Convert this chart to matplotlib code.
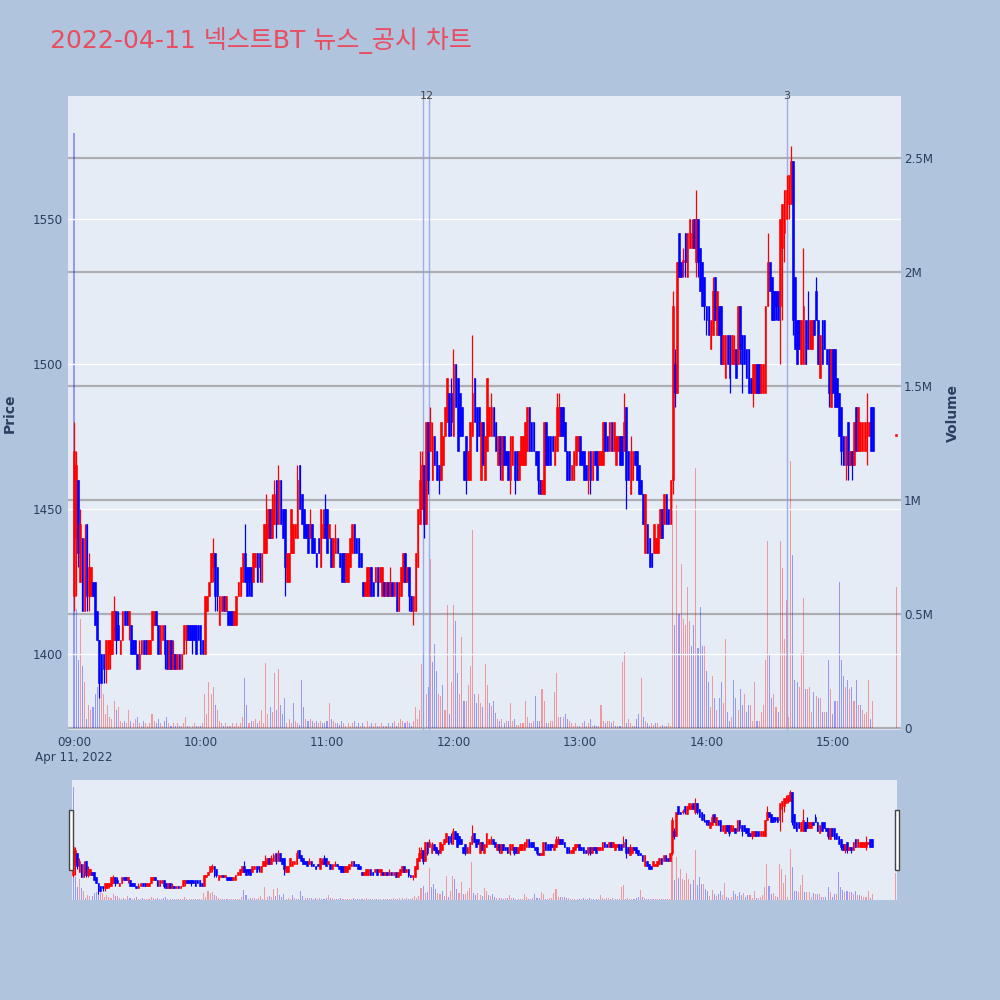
import numpy as np
import pandas as pd
import matplotlib
matplotlib.use('Agg')
import matplotlib.pyplot as plt
import matplotlib.dates as mdates
from matplotlib.patches import Rectangle

plt.rcParams['font.family'] = ['DejaVu Sans', 'Noto Sans CJK KR']

title = '2022-04-11 넥스트BT 뉴스_공시 차트'
trade_date = '2022-04-11'
prev_close = 1480

# 1-minute candles 09:00-15:19, then the 15:30 closing auction (last value)
opens = [
    1420, 1440, 1460, 1425, 1440, 1415, 1445, 1420, 1420, 1425,
    1425, 1415, 1405, 1400, 1400, 1395, 1395, 1400, 1400, 1405,
    1415, 1410, 1400, 1405, 1415, 1415, 1410, 1410, 1405, 1405,
    1400, 1395, 1400, 1405, 1405, 1400, 1400, 1405, 1410, 1415,
    1410, 1400, 1405, 1410, 1405, 1395, 1405, 1395, 1400, 1395,
    1400, 1395, 1400, 1405, 1410, 1410, 1410, 1410, 1410, 1410,
    1410, 1405, 1400, 1415, 1420, 1425, 1430, 1435, 1430, 1410,
    1415, 1420, 1415, 1415, 1415, 1415, 1410, 1410, 1420, 1420,
    1425, 1435, 1430, 1430, 1430, 1425, 1430, 1435, 1435, 1425,
    1435, 1435, 1440, 1450, 1440, 1445, 1460, 1445,
    1460, 1450, 1450, 1425, 1425, 1435, 1435, 1440, 1440, 1465,
    1455, 1450, 1445, 1445, 1440, 1445, 1440, 1435, 1440, 1430,
    1440, 1450, 1450, 1440, 1440, 1430, 1435, 1440, 1435, 1435,
    1435, 1425, 1425, 1430, 1435, 1445, 1440, 1440, 1435, 1425,
    1420, 1420, 1420, 1430, 1425, 1425, 1430, 1425, 1420, 1425,
    1420, 1425, 1420, 1425, 1420, 1425, 1415, 1420, 1425, 1435,
    1425, 1430, 1420, 1415,
    1415, 1430, 1445, 1450, 1465, 1445, 1480, 1470, 1460, 1475,
    1470, 1465, 1460, 1465, 1475, 1480, 1490, 1490, 1475, 1500,
    1495, 1490, 1485, 1470, 1475, 1460, 1460, 1475, 1495, 1485,
    1485, 1460, 1480, 1460, 1470,
    1475, 1475, 1485, 1480, 1465, 1475, 1460, 1475, 1470, 1470,
    1460, 1465, 1470, 1470, 1460, 1465, 1465, 1465, 1470, 1485,
    1480, 1480, 1470, 1470, 1460, 1455, 1455, 1480, 1475,
    1475, 1475, 1465, 1470, 1475, 1485, 1485, 1480, 1470, 1470,
    1460, 1460, 1465, 1470, 1475, 1470, 1470, 1465, 1460, 1470,
    1460, 1470, 1470, 1465, 1465, 1465, 1480, 1475, 1470, 1480,
    1470, 1465, 1470, 1475, 1475, 1470, 1485, 1470, 1455, 1460,
    1470, 1470, 1465, 1460, 1455, 1435, 1445, 1440, 1435, 1435,
    1435, 1435, 1440, 1450, 1445, 1455, 1450, 1445, 1460,
    1500, 1490,
    1545, 1535, 1535, 1545, 1530, 1540, 1540, 1550, 1535, 1550,
    1540, 1535, 1530, 1520, 1520, 1505, 1510, 1530, 1510, 1520,
    1520, 1500, 1495, 1510, 1510, 1500, 1500, 1505, 1500, 1520,
    1510, 1510, 1505, 1505, 1495, 1490, 1490, 1500, 1500, 1490,
    1490, 1490, 1520, 1535, 1530, 1525, 1525, 1525, 1520, 1540,
    1545, 1550, 1555, 1555, 1570, 1530, 1515, 1515, 1500, 1500,
    1515, 1515, 1505, 1505, 1515, 1525, 1515, 1495, 1515, 1515,
    1505, 1505, 1485, 1505, 1505, 1495, 1490, 1485, 1475, 1465,
    1480, 1465, 1470, 1465, 1485, 1470, 1470, 1470, 1470, 1470,
    1475, 1485, 1485,
    1475,
]
highs = [
    1480, 1470, 1460, 1450, 1440, 1445, 1445, 1435, 1430, 1425,
    1425, 1415, 1405, 1400, 1400, 1405, 1405, 1405, 1415, 1420,
    1415, 1415, 1405, 1415, 1415, 1415, 1415, 1410, 1405, 1405,
    1400, 1405, 1405, 1405, 1405, 1405, 1405, 1415, 1415, 1415,
    1410, 1410, 1410, 1410, 1405, 1405, 1405, 1405, 1400, 1400,
    1400, 1400, 1410, 1410, 1410, 1410, 1410, 1410, 1410, 1410,
    1410, 1405, 1420, 1420, 1425, 1435, 1440, 1435, 1430, 1420,
    1420, 1420, 1420, 1415, 1415, 1415, 1415, 1420, 1425, 1430,
    1435, 1445, 1430, 1430, 1430, 1435, 1435, 1435, 1435, 1435,
    1445, 1455, 1450, 1450, 1455, 1460, 1460, 1465,
    1460, 1450, 1450, 1435, 1435, 1450, 1445, 1445, 1465, 1465,
    1455, 1450, 1445, 1445, 1450, 1445, 1440, 1435, 1440, 1450,
    1450, 1455, 1450, 1445, 1440, 1440, 1445, 1440, 1435, 1435,
    1435, 1435, 1435, 1440, 1445, 1445, 1440, 1440, 1435, 1425,
    1425, 1430, 1430, 1430, 1425, 1430, 1430, 1430, 1430, 1425,
    1425, 1425, 1430, 1425, 1425, 1425, 1425, 1430, 1435, 1435,
    1430, 1430, 1420, 1420,
    1435, 1450, 1470, 1470, 1465, 1480, 1480, 1485, 1480, 1475,
    1470, 1465, 1480, 1475, 1485, 1495, 1490, 1495, 1505, 1500,
    1495, 1490, 1485, 1470, 1475, 1470, 1480, 1510, 1495, 1485,
    1485, 1480, 1480, 1475, 1495,
    1485, 1490, 1485, 1480, 1475, 1475, 1475, 1475, 1470, 1470,
    1475, 1475, 1470, 1470, 1470, 1475, 1475, 1480, 1485, 1485,
    1480, 1480, 1470, 1470, 1460, 1460, 1480, 1480, 1475, 1475,
    1475, 1475, 1490, 1490, 1485, 1485, 1480, 1470, 1470, 1465,
    1470, 1475, 1475, 1475, 1470, 1470, 1465, 1470, 1470, 1470,
    1470, 1470, 1470, 1470, 1480, 1480, 1475, 1480, 1480, 1480,
    1475, 1475, 1475, 1475, 1490, 1485, 1470, 1475, 1470, 1470,
    1470, 1465, 1460, 1455, 1455, 1445, 1440, 1435, 1445, 1440,
    1445, 1450, 1450, 1455, 1455, 1450, 1460, 1525,
    1505, 1535,
    1545, 1535, 1540, 1545, 1545, 1550, 1550, 1550, 1560, 1550,
    1540, 1535, 1530, 1520, 1520, 1515, 1530, 1530, 1525, 1520,
    1520, 1510, 1510, 1510, 1510, 1510, 1510, 1505, 1520, 1520,
    1510, 1510, 1505, 1505, 1495, 1500, 1500, 1500, 1500, 1500,
    1500, 1520, 1545, 1535, 1530, 1525, 1525, 1525, 1550, 1555,
    1560, 1565, 1565, 1575, 1570, 1530, 1515, 1515, 1515, 1540,
    1515, 1525, 1515, 1515, 1515, 1530, 1515, 1510, 1515, 1515,
    1505, 1505, 1505, 1505, 1505, 1495, 1490, 1485, 1475, 1475,
    1480, 1470, 1470, 1480, 1485, 1485, 1480, 1480, 1480, 1490,
    1480, 1485, 1485,
    1475,
]
lows = [
    1415, 1420, 1430, 1425, 1415, 1415, 1415, 1415, 1420, 1420,
    1410, 1405, 1385, 1390, 1390, 1390, 1395, 1395, 1400, 1405,
    1400, 1405, 1400, 1405, 1410, 1410, 1405, 1400, 1400, 1400,
    1395, 1395, 1400, 1400, 1400, 1400, 1400, 1405, 1410, 1410,
    1400, 1400, 1405, 1395, 1395, 1395, 1395, 1395, 1395, 1395,
    1395, 1395, 1400, 1400, 1405, 1405, 1400, 1405, 1400, 1405,
    1400, 1400, 1400, 1415, 1420, 1425, 1425, 1415, 1415, 1410,
    1415, 1415, 1415, 1410, 1410, 1410, 1410, 1410, 1420, 1420,
    1425, 1425, 1420, 1420, 1420, 1425, 1430, 1425, 1425, 1425,
    1435, 1435, 1440, 1440, 1440, 1445, 1440, 1445,
    1445, 1440, 1420, 1425, 1425, 1435, 1435, 1440, 1440, 1450,
    1445, 1440, 1440, 1435, 1440, 1435, 1435, 1430, 1435, 1430,
    1440, 1440, 1435, 1440, 1430, 1430, 1435, 1435, 1430, 1425,
    1425, 1425, 1425, 1430, 1435, 1435, 1435, 1430, 1430, 1420,
    1420, 1420, 1420, 1420, 1420, 1425, 1420, 1425, 1420, 1420,
    1420, 1420, 1420, 1420, 1420, 1415, 1415, 1420, 1425, 1425,
    1425, 1415, 1415, 1410,
    1415, 1430, 1445, 1450, 1440, 1445, 1455, 1470, 1460, 1465,
    1460, 1455, 1460, 1465, 1475, 1480, 1475, 1475, 1475, 1485,
    1470, 1475, 1475, 1460, 1455, 1460, 1460, 1475, 1480, 1470,
    1475, 1460, 1465, 1460, 1470,
    1475, 1475, 1475, 1470, 1465, 1460, 1460, 1465, 1465, 1460,
    1455, 1465, 1455, 1460, 1460, 1465, 1465, 1465, 1470, 1470,
    1470, 1470, 1465, 1455, 1455, 1455, 1455, 1465, 1465, 1465,
    1470, 1465, 1470, 1475, 1475, 1475, 1470, 1460, 1460, 1460,
    1460, 1465, 1470, 1465, 1465, 1460, 1460, 1455, 1455, 1460,
    1465, 1460, 1465, 1465, 1465, 1470, 1470, 1470, 1470, 1470,
    1465, 1470, 1465, 1465, 1470, 1450, 1460, 1455, 1460, 1465,
    1460, 1455, 1455, 1445, 1435, 1435, 1430, 1430, 1435, 1435,
    1435, 1440, 1440, 1445, 1445, 1445, 1445, 1455,
    1485, 1490,
    1530, 1530, 1530, 1530, 1530, 1540, 1540, 1540, 1530, 1530,
    1525, 1520, 1515, 1510, 1510, 1505, 1510, 1515, 1510, 1510,
    1500, 1500, 1495, 1500, 1490, 1500, 1500, 1495, 1500, 1500,
    1490, 1500, 1495, 1490, 1490, 1485, 1490, 1490, 1490, 1490,
    1490, 1490, 1520, 1525, 1515, 1515, 1515, 1515, 1500, 1515,
    1535, 1550, 1550, 1555, 1510, 1505, 1500, 1505, 1500, 1500,
    1500, 1505, 1505, 1505, 1510, 1515, 1500, 1495, 1500, 1505,
    1500, 1485, 1485, 1490, 1485, 1485, 1475, 1465, 1465, 1460,
    1460, 1465, 1460, 1465, 1470, 1470, 1470, 1470, 1470, 1465,
    1475, 1470, 1470,
    1475,
]
closes = [
    1470, 1465, 1435, 1445, 1415, 1440, 1420, 1430, 1430, 1420,
    1410, 1405, 1390, 1390, 1395, 1405, 1405, 1405, 1415, 1415,
    1405, 1405, 1405, 1415, 1410, 1410, 1415, 1400, 1400, 1400,
    1395, 1400, 1405, 1400, 1400, 1405, 1405, 1415, 1415, 1410,
    1400, 1410, 1410, 1400, 1395, 1405, 1395, 1400, 1395, 1400,
    1395, 1400, 1410, 1410, 1405, 1405, 1405, 1405, 1400, 1405,
    1400, 1400, 1420, 1420, 1425, 1435, 1435, 1420, 1420, 1420,
    1420, 1415, 1420, 1410, 1410, 1410, 1415, 1420, 1425, 1430,
    1435, 1425, 1420, 1425, 1420, 1435, 1435, 1425, 1430, 1435,
    1445, 1445, 1450, 1440, 1450, 1455, 1445, 1460,
    1445, 1440, 1430, 1435, 1435, 1450, 1445, 1445, 1460, 1450,
    1445, 1440, 1440, 1435, 1445, 1435, 1435, 1430, 1435, 1450,
    1445, 1440, 1435, 1445, 1430, 1440, 1440, 1435, 1430, 1425,
    1425, 1435, 1435, 1440, 1445, 1435, 1435, 1430, 1430, 1420,
    1425, 1430, 1430, 1420, 1420, 1430, 1420, 1430, 1430, 1420,
    1425, 1420, 1425, 1420, 1425, 1415, 1425, 1430, 1435, 1425,
    1430, 1420, 1415, 1420,
    1435, 1450, 1460, 1465, 1445, 1480, 1460, 1480, 1475, 1465,
    1460, 1460, 1480, 1475, 1485, 1495, 1475, 1480, 1500, 1485,
    1470, 1475, 1475, 1460, 1460, 1470, 1480, 1490, 1480, 1470,
    1475, 1480, 1465, 1475, 1495,
    1485, 1485, 1475, 1470, 1475, 1465, 1475, 1465, 1465, 1460,
    1475, 1475, 1460, 1460, 1470, 1475, 1475, 1480, 1485, 1470,
    1470, 1470, 1465, 1460, 1455, 1460, 1480, 1465, 1465, 1465,
    1470, 1475, 1485, 1485, 1475, 1475, 1470, 1460, 1460, 1465,
    1470, 1475, 1475, 1465, 1465, 1460, 1460, 1470, 1460, 1470,
    1465, 1460, 1470, 1470, 1480, 1470, 1470, 1480, 1470, 1480,
    1475, 1475, 1465, 1465, 1480, 1460, 1460, 1470, 1470, 1465,
    1460, 1455, 1455, 1445, 1455, 1435, 1430, 1430, 1445, 1440,
    1445, 1450, 1440, 1455, 1445, 1445, 1460, 1520,
    1490, 1535,
    1530, 1530, 1535, 1535, 1545, 1550, 1545, 1540, 1550, 1535,
    1525, 1520, 1520, 1515, 1510, 1515, 1525, 1515, 1525, 1510,
    1500, 1510, 1510, 1500, 1495, 1510, 1505, 1495, 1520, 1505,
    1500, 1500, 1495, 1490, 1490, 1500, 1500, 1490, 1490, 1500,
    1500, 1520, 1535, 1525, 1515, 1515, 1520, 1515, 1550, 1555,
    1560, 1560, 1565, 1570, 1515, 1505, 1500, 1505, 1515, 1520,
    1500, 1505, 1515, 1515, 1510, 1515, 1500, 1510, 1500, 1505,
    1500, 1490, 1505, 1490, 1485, 1485, 1475, 1470, 1465, 1475,
    1465, 1470, 1465, 1480, 1470, 1485, 1480, 1480, 1480, 1480,
    1480, 1470, 1470,
    1475,
]
# traded volume, thousand shares
volumes = [
    2610, 520, 300, 480, 270, 200, 40, 100, 80, 90,
    150, 180, 200, 250, 150, 60, 100, 50, 40, 120,
    80, 90, 30, 20, 30, 20, 80, 30, 20, 40,
    50, 20, 10, 30, 20, 10, 20, 60, 30, 20,
    40, 20, 10, 30, 50, 20, 10, 20, 10, 20,
    10, 10, 20, 50, 10, 10, 10, 20, 10, 10,
    10, 20, 150, 60, 200, 150, 180, 100, 80, 30,
    20, 10, 20, 10, 10, 20, 10, 20, 10, 20,
    50, 220, 100, 20, 30, 30, 40, 20, 30, 80,
    20, 285, 60, 90, 70, 240, 80, 260,
    100, 60, 130, 20, 40, 20, 110, 30, 20, 15,
    210, 90, 40, 30, 40, 30, 20, 30, 20, 30,
    20, 20, 30, 110, 40, 30, 20, 20, 15, 30,
    20, 10, 20, 10, 20, 30, 10, 20, 10, 20,
    10, 30, 10, 20, 10, 20, 10, 10, 20, 10,
    10, 20, 10, 20, 30, 10, 20, 40, 30, 20,
    30, 20, 10, 30,
    90, 40, 80, 280, 320, 150, 180, 740, 290, 370,
    250, 150, 140, 190, 80, 540, 60, 200, 540, 470,
    240, 150, 400, 120, 120, 190, 270, 870, 150, 110,
    150, 110, 90, 280, 190,
    110, 95, 120, 65, 40, 30, 40, 20, 30, 30,
    110, 30, 40, 15, 15, 20, 20, 120, 50, 20,
    20, 30, 140, 30, 30, 170, 120, 20, 20, 30,
    30, 160, 240, 50, 50, 50, 60, 40, 30, 20,
    10, 20, 10, 10, 20, 30, 10, 20, 40, 10,
    15, 10, 10, 100, 30, 20, 30, 30, 20, 30,
    10, 10, 10, 290, 335, 20, 40, 20, 10, 10,
    40, 60, 220, 50, 30, 20, 10, 20, 15, 20,
    20, 10, 15, 10, 10, 20, 10, 1100,
    450, 980,
    500, 720, 480, 450, 620, 470, 360, 450, 1140, 350,
    530, 360, 360, 250, 200, 90, 230, 130, 80, 130,
    200, 110, 390, 70, 30, 50, 210, 130, 80, 170,
    100, 150, 70, 100, 100, 30, 200, 30, 30, 70,
    100, 300, 820, 320, 130, 150, 90, 70, 820, 700,
    390, 560, 50, 1170, 760, 210, 200, 180, 330, 570,
    170, 170, 180, 70, 160, 140, 130, 130, 70, 70,
    70, 300, 170, 60, 120, 120, 640, 300, 230, 180,
    210, 170, 180, 120, 210, 100, 100, 80, 60, 70,
    210, 40, 120,
    620,
]

# disclosure / news timestamps and their marker labels
news_times = ['11:45:45', '11:48:20', '14:38:00']
news_labels = ['1', '2', '3']

x_tick_labels = ['09:00\nApr 11, 2022', '10:00', '11:00', '12:00', '13:00', '14:00', '15:00']
price_ticks = [1400, 1450, 1500, 1550]
volume_ticks = [0, 0.5e6, 1e6, 1.5e6, 2e6, 2.5e6]
volume_tick_labels = ['0', '0.5M', '1M', '1.5M', '2M', '2.5M']

n_minutes = len(opens) - 1
times = pd.date_range(f'{trade_date} 09:00', periods=n_minutes, freq='min')
times = times.append(pd.DatetimeIndex([f'{trade_date} 15:30']))

o = np.array(opens, float)
h = np.array(highs, float)
l = np.array(lows, float)
c = np.array(closes, float)
v = np.array(volumes, float) * 1000
x = mdates.date2num(times)
minute = 1 / 1440

up = c >= o
candle_col = np.where(up, '#FF0000', '#0000FF')
prev = np.concatenate([[prev_close], c[:-1]])
vol_col = np.where(c >= prev, '#FF0000', '#0000FF')

TXT = '#2a3f5f'
BG = '#B0C4DE'
PLOT_BG = '#E5ECF6'
start = mdates.date2num(pd.Timestamp(f'{trade_date} 09:00'))


def draw(ax, axv, body_w, wick_lw, vol_w):
    axv.bar(x, v, width=vol_w * minute, color=vol_col, alpha=0.35, lw=0, zorder=2)
    ax.vlines(x, l, h, colors=candle_col, lw=wick_lw, zorder=3)
    bottom = np.minimum(o, c)
    height = np.maximum(np.abs(c - o), 0.8)
    ax.bar(x, height, width=body_w * minute, bottom=bottom, color=candle_col,
           edgecolor=candle_col, lw=0.4, zorder=4)


fig = plt.figure(figsize=(10, 10), dpi=100)
fig.patch.set_facecolor(BG)

# main chart
axv = fig.add_axes([0.068, 0.27, 0.833, 0.634])
ax = axv.twinx()
ax.yaxis.tick_left()
ax.yaxis.set_label_position('left')
axv.yaxis.tick_right()
ax.set_zorder(axv.get_zorder() + 1)
ax.patch.set_visible(False)
axv.set_facecolor(PLOT_BG)

draw(ax, axv, 0.8, 0.9, 0.5)

for t, lab in zip(news_times, news_labels):
    tx = mdates.date2num(pd.Timestamp(f'{trade_date} {t}'))
    ax.axvline(tx, color='#8c9ee6', lw=1.0, alpha=0.8, zorder=2)
    ax.text(tx, 1.0, lab, transform=ax.get_xaxis_transform(), ha='center',
            va='center', fontsize=8, color='#444444', zorder=6)

ax.set_xlim(start - 2.85 * minute, start + 392.3 * minute)
ax.set_ylim(1373.8, 1592.4)
axv.set_ylim(-0.0088e6, 2.772e6)

ax.set_yticks(price_ticks)
ax.set_yticklabels([str(p) for p in price_ticks])
axv.set_yticks(volume_ticks)
axv.set_yticklabels(volume_tick_labels)
hours = [int(s[:2]) for s in x_tick_labels]
ax.set_xticks([start + (hh - 9) * 60 * minute for hh in hours])
ax.set_xticklabels(x_tick_labels, linespacing=1.4)

ax.grid(axis='y', color='white', lw=1.0)
ax.grid(axis='x', visible=False)
axv.grid(axis='y', color='#ADADB2', lw=1.6)
axv.set_axisbelow(True)
for a in (ax, axv):
    for s in a.spines.values():
        s.set_visible(False)
    a.tick_params(length=0, labelsize=8.6, colors=TXT, pad=4)
axv.tick_params(axis='y', pad=2)

fig.text(0.010, 0.587, 'Price', rotation=90, ha='center', va='center',
         fontsize=10, fontweight='bold', color=TXT)
fig.text(0.953, 0.587, 'Volume', rotation=90, ha='center', va='center',
         fontsize=10, fontweight='bold', color=TXT)
fig.text(0.050, 0.959, title, ha='left', va='center', fontsize=18, color='#EA4C60')

# range slider
sv = fig.add_axes([0.072, 0.10, 0.825, 0.12])
sa = sv.twinx()
sa.set_zorder(sv.get_zorder() + 1)
sa.patch.set_visible(False)
sv.set_facecolor(PLOT_BG)
draw(sa, sv, 0.8, 0.8, 0.5)
sa.set_xlim(start - 0.5 * minute, start + 390.7 * minute)
sa.set_ylim(1373.8, 1592.4)
sv.set_ylim(-0.0088e6, 2.772e6)
for a in (sa, sv):
    a.set_xticks([])
    a.set_yticks([])
    for s in a.spines.values():
        s.set_visible(False)
for x0 in (-0.0036, 0.9970):
    sa.add_patch(Rectangle((x0, 0.25), 0.0054, 0.5, transform=sa.transAxes,
                           facecolor='white', edgecolor='#444444', lw=1.0,
                           clip_on=False, zorder=10))

fig.savefig('out.png', dpi=100, facecolor=BG)
